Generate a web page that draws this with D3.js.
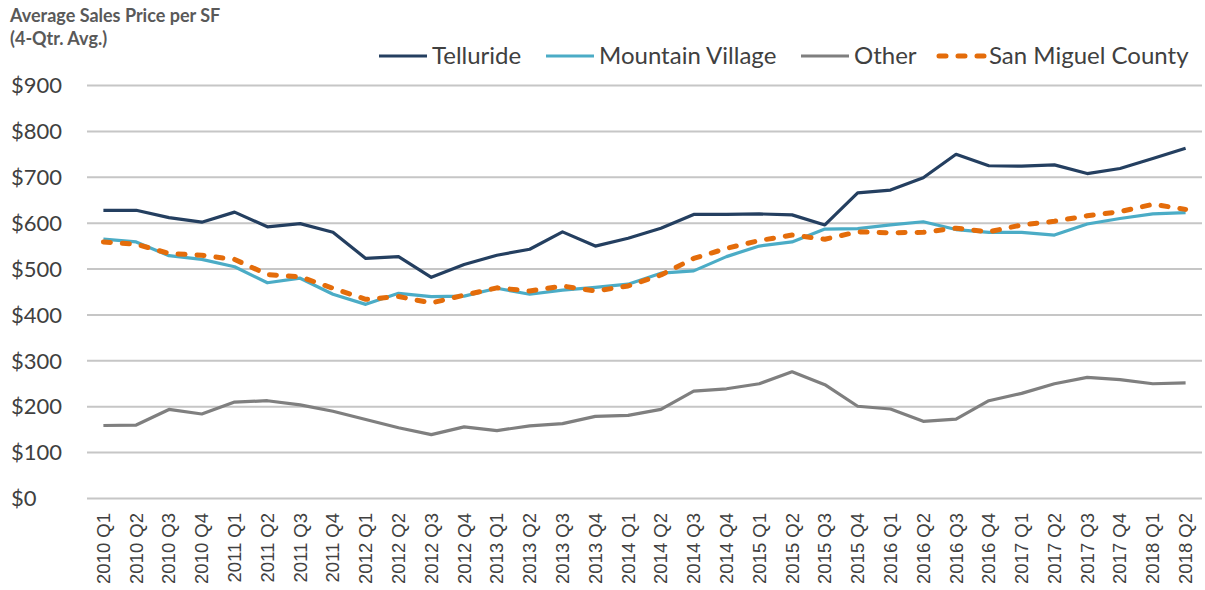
<!DOCTYPE html>
<html lang="en">
<head>
<meta charset="utf-8">
<title>Average Sales Price per SF</title>
<script src="https://cdn.jsdelivr.net/npm/d3@7/dist/d3.min.js"></script>
<style>
  body { margin: 0; background: #fff; }
  svg { display: block; }
  .title { font-family: Lato, "Open Sans", sans-serif; font-weight: bold; font-size: 18px; fill: #595959; }
  .yaxis text { font-family: Lato, "Open Sans", sans-serif; font-size: 22px; fill: #404040; }
  .xaxis text { font-family: "Liberation Sans", Arial, sans-serif; font-size: 18.5px; fill: #404040; }
  .legend text { font-family: Lato, "Open Sans", sans-serif; font-size: 24px; fill: #404040; }
</style>
</head>
<body>
<script>
// quarters on the x axis
var quarters = ["2010 Q1","2010 Q2","2010 Q3","2010 Q4","2011 Q1","2011 Q2","2011 Q3","2011 Q4",
  "2012 Q1","2012 Q2","2012 Q3","2012 Q4","2013 Q1","2013 Q2","2013 Q3","2013 Q4",
  "2014 Q1","2014 Q2","2014 Q3","2014 Q4","2015 Q1","2015 Q2","2015 Q3","2015 Q4",
  "2016 Q1","2016 Q2","2016 Q3","2016 Q4","2017 Q1","2017 Q2","2017 Q3","2017 Q4",
  "2018 Q1","2018 Q2"];

// values ($ per SF, 4-qtr avg)
var telluride = [627,627,611,601, 623,591,598,579, 522,526,481,509, 529,542,580,549,
  566,588,618,618, 619,617,595,665, 671,698,749,724, 723,726,707,718, 740,762];
var mountainVillage = [564,558,528,520, 504,469,479,444, 422,446,439,440, 457,444,453,459,
  466,490,495,526, 549,558,586,587, 595,602,585,579, 579,573,597,609, 619,622];
var other = [158,159,193,183, 209,212,203,189, 171,153,138,155, 147,157,162,178,
  180,193,233,238, 249,275,247,200, 194,167,172,212, 228,249,263,258, 249,251];
var sanMiguel = [558,553,533,529, 520,487,482,457, 433,439,425,442, 458,451,462,451,
  462,486,522,544, 561,573,564,580, 578,579,588,580, 595,603,615,624, 640,629];

var yTicks = [0,100,200,300,400,500,600,700,800,900];

var seriesNames = ["Telluride","Mountain Village","Other","San Miguel County"];
var seriesData = [telluride, mountainVillage, other, sanMiguel];
var colors = ["#243f60","#4bacc6","#7f7f7f","#e46c0a"];

var w = 1205, h = 590;
var plotLeft = 87, plotRight = 1202, plotTop = 85, plotBottom = 498;

var svg = d3.select("body").append("svg").attr("width", w).attr("height", h);

var x = d3.scaleBand().domain(quarters).range([plotLeft, plotRight]);
var y = d3.scaleLinear().domain([0, 900]).range([plotBottom, plotTop]);

// title
var title = svg.append("text").attr("class", "title").attr("x", 10);
title.append("tspan").attr("x", 10).attr("y", 22).text("Average Sales Price per SF");
title.append("tspan").attr("x", 10).attr("y", 45).text("(4-Qtr. Avg.)");

// y axis + gridlines
var yAxis = svg.append("g").attr("class", "yaxis")
  .attr("transform", "translate(" + plotLeft + ",0)")
  .call(d3.axisLeft(y).tickValues(yTicks).tickSize(-(plotRight - plotLeft)).tickFormat(function(d){ return "$" + d; }));
yAxis.select(".domain").remove();
yAxis.selectAll("line").attr("stroke", "#c6c6c6").attr("stroke-width", 2);
yAxis.selectAll("text").attr("x", 11 - plotLeft).attr("dy", "0.35em").attr("text-anchor", "start");

// x axis labels
var xAxis = svg.append("g").attr("class", "xaxis")
  .attr("transform", "translate(0," + plotBottom + ")")
  .call(d3.axisBottom(x).tickSize(0));
xAxis.select(".domain").remove();
xAxis.selectAll("text")
  .attr("transform", "rotate(-90)")
  .attr("x", -15).attr("y", 0).attr("dy", "0.35em")
  .attr("text-anchor", "end");

// lines
var line = d3.line()
  .x(function(d, i){ return x(quarters[i]) + x.bandwidth() / 2; })
  .y(function(d){ return y(d); });

for (var s = 0; s < seriesData.length; s++) {
  var p = svg.append("path")
    .attr("d", line(seriesData[s]))
    .attr("fill", "none")
    .attr("stroke", colors[s])
    .attr("stroke-linejoin", "round");
  if (s == 3) {
    p.attr("stroke-width", 5).attr("stroke-dasharray", "7,12").attr("stroke-linecap", "round");
  } else {
    p.attr("stroke-width", 3.2);
  }
}

// legend, positions
var legendX = [379, 546, 801, 936];
var legend = svg.append("g").attr("class", "legend");
for (var k = 0; k < seriesNames.length; k++) {
  var ly = 56;
  var ln = legend.append("line")
    .attr("x1", legendX[k]).attr("x2", legendX[k] + 48)
    .attr("y1", ly).attr("y2", ly)
    .attr("stroke", colors[k]);
  if (k == 3) {
    ln.attr("x1", legendX[k] + 3).attr("stroke-width", 5).attr("stroke-dasharray", "7,12").attr("stroke-linecap", "round");
  } else {
    ln.attr("stroke-width", 3.2);
  }
  legend.append("text")
    .attr("x", legendX[k] + 53).attr("y", ly).attr("dy", "0.35em")
    .text(seriesNames[k]);
}
</script>
</body>
</html>
